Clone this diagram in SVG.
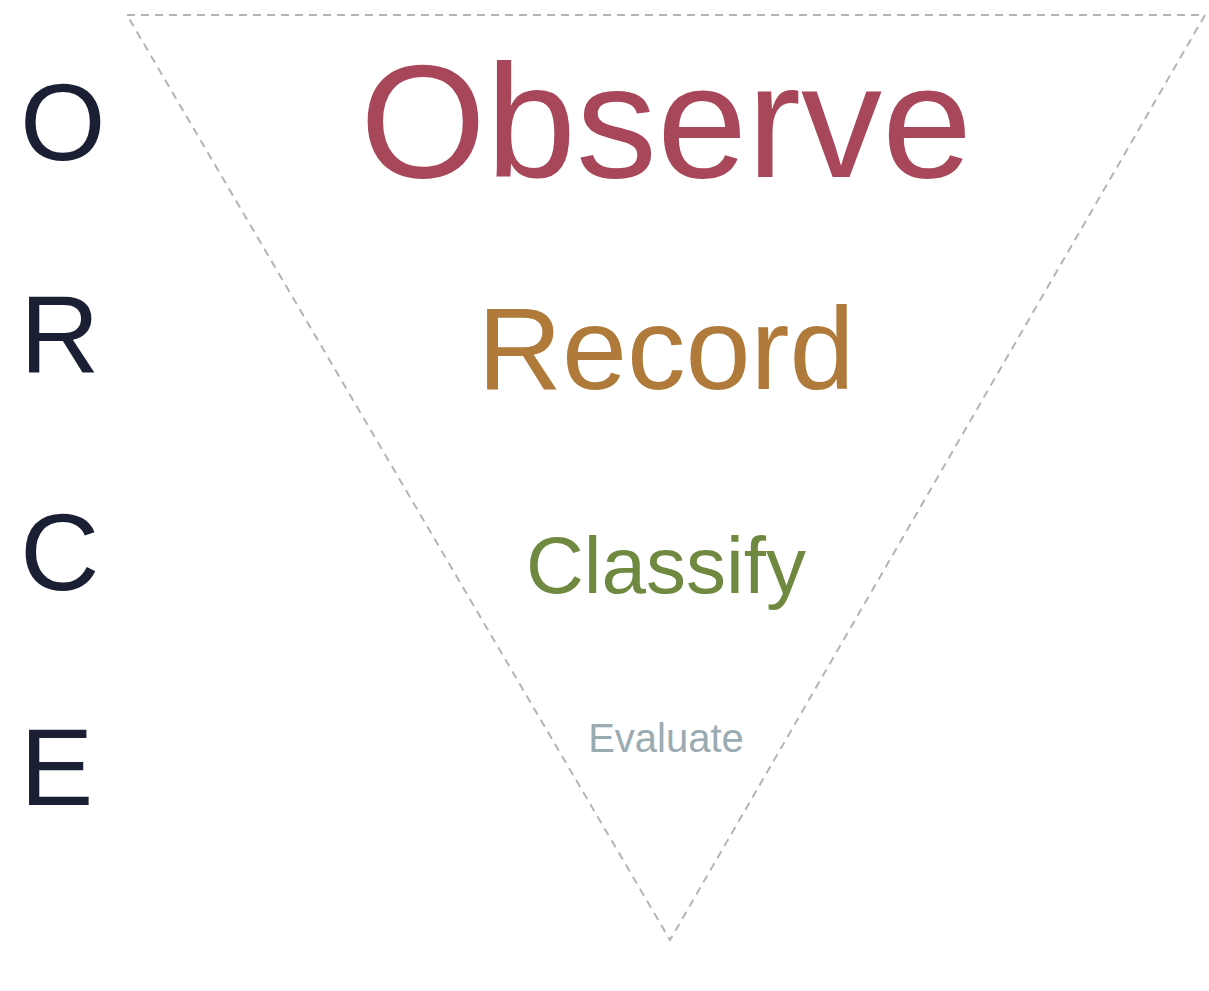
<svg xmlns="http://www.w3.org/2000/svg" width="1209" height="991" viewBox="0 0 1209 991">
<style>
.lbl{font-family:"Liberation Sans",Arial,sans-serif;text-anchor:middle}
.side{font-family:"Liberation Sans",Arial,sans-serif;font-size:110px;fill:#1a1f33}
.edge{fill:none;stroke:#b4b4b8;stroke-width:2;stroke-dasharray:8 6}
</style>
<rect width="1209" height="991" fill="#ffffff"/>
<g id="connectors">
<path class="edge" d="M127 15 L1205 15 L670 940 Z"/>
</g>
<g id="letters">
<text class="side" x="20" y="160">O</text>
<text class="side" x="20" y="372">R</text>
<text class="side" x="20" y="590">C</text>
<text class="side" x="20" y="805">E</text>
</g>
<g id="observe"><text class="lbl" x="666" y="177" font-size="162" fill="#a8465a">Observe</text></g>
<g id="record"><text class="lbl" x="666" y="389" font-size="117" fill="#b07a3a">Record</text></g>
<g id="classify"><text class="lbl" x="666" y="593" font-size="80" fill="#6f8a40">Classify</text></g>
<g id="evaluate"><text class="lbl" x="666" y="752" font-size="40" fill="#9aabb2">Evaluate</text></g>
</svg>
